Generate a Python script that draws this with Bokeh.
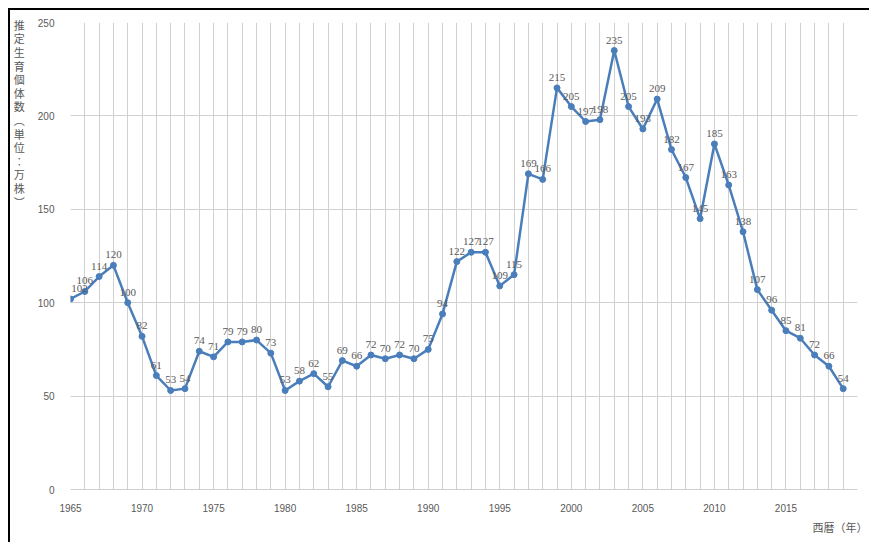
from bokeh.plotting import figure
from bokeh.models import ColumnDataSource, SingleIntervalTicker, FixedTicker, LabelSet, Range1d, Title
from bokeh.embed import file_html
from bokeh.resources import INLINE

years = list(range(1965, 2020))
counts = [102, 106, 114, 120, 100, 82, 61, 53, 54, 74,
          71, 79, 79, 80, 73, 53, 58, 62, 55, 69,
          66, 72, 70, 72, 70, 75, 94, 122, 127, 127,
          109, 115, 169, 166, 215, 205, 197, 198, 235, 205,
          193, 209, 182, 167, 145, 185, 163, 138, 107, 96,
          85, 81, 72, 66, 54]
x_ticks = [1965, 1970, 1975, 1980, 1985, 1990, 1995, 2000, 2005, 2010, 2015]
y_ticks = [0, 50, 100, 150, 200, 250]
y_title_chars = ["推", "定", "生", "育", "個", "体", "数", "︵", "単", "位", "︰", "万", "株", "︶"]
x_title = "西暦（年）"

# layout helpers (not data): pad the stacked title so it sits at the top of the axis,
# and shift the first data label so it is not clipped at the left edge
y_title = "\n".join(y_title_chars + [""] * 21)
label_dx = [9 if i == 0 else 0 for i in range(len(years))]

src = ColumnDataSource(dict(x=years, y=counts, t=[str(v) for v in counts], dx=label_dx))

p = figure(width=861, height=534, x_range=Range1d(1965, 2020), y_range=Range1d(0, 250),
           output_backend="svg", toolbar_location=None,
           min_border_left=60, min_border_right=14, min_border_top=12, min_border_bottom=55)
p.margin = (8, 0, 0, 8)
p.styles = {"border-top": "2px solid #000", "border-left": "2px solid #000"}
p.outline_line_color = None
p.background_fill_color = "white"
p.border_fill_color = "white"

p.xaxis.ticker = FixedTicker(ticks=x_ticks)
p.yaxis.ticker = FixedTicker(ticks=y_ticks)
p.xgrid.ticker = SingleIntervalTicker(interval=1)
p.ygrid.ticker = FixedTicker(ticks=y_ticks)
p.xgrid.grid_line_color = "#d0d0d0"
p.ygrid.grid_line_color = "#d0d0d0"
p.xgrid.grid_line_width = 1
p.ygrid.grid_line_width = 1

for ax in (p.xaxis, p.yaxis):
    ax.major_tick_line_color = None
    ax.minor_tick_line_color = None
    ax.major_label_text_color = "#595959"
    ax.major_label_text_font = "Liberation Sans"
    ax.major_label_text_font_size = "10px"
    ax.axis_label_text_font = "Noto Sans CJK JP"
    ax.axis_label_text_font_size = "11px"
    ax.axis_label_text_font_style = "normal"
    ax.axis_label_text_color = "#595959"
p.xaxis.axis_line_color = "#d0d0d0"
p.yaxis.axis_line_color = None
p.yaxis.major_label_standoff = 10
p.xaxis.major_label_standoff = 8

p.yaxis.axis_label = y_title
p.yaxis.axis_label_orientation = "horizontal"
p.yaxis.axis_label_standoff = 10
p.yaxis.axis_label_text_line_height = 0.85

p.add_layout(Title(text=x_title, align="right", text_font="Noto Sans CJK JP",
                   text_font_size="11px", text_font_style="normal", text_color="#595959",
                   standoff=4, offset=-10), "below")

p.line("x", "y", source=src, line_color="#4a7ebb", line_width=2.5)
p.scatter("x", "y", source=src, size=6, fill_color="#4a7ebb", line_color="#4a7ebb")

labels = LabelSet(x="x", y="y", text="t", source=src, y_offset=7, x_offset="dx",
                  text_align="center", text_baseline="bottom",
                  text_font="Liberation Sans", text_font_size="11px", text_color="#595959")
p.add_layout(labels)

open("out.html", "w").write(file_html(p, INLINE))
